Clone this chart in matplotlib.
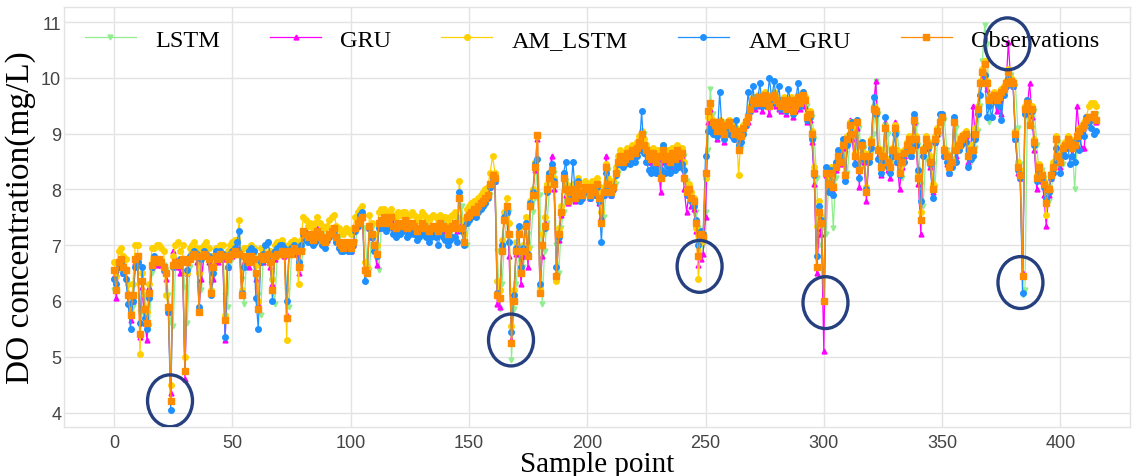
import numpy as np
import matplotlib
matplotlib.use("Agg")
import matplotlib.pyplot as plt
from matplotlib.patches import Ellipse

observations = [
    6.55, 6.2, 6.7, 6.75, 6.6, 6.55, 6.1, 5.75, 6.1, 6.75,
    6.8, 5.4, 6.35, 5.85, 5.6, 6.15, 6.65, 6.75, 6.7, 6.75,
    6.7, 6.6, 6.5, 5.9, 4.2, 6.65, 6.7, 6.65, 6.7, 6.75,
    4.75, 6.7, 6.75, 6.8, 6.85, 6.8, 5.8, 6.8, 6.85, 6.8,
    6.75, 6.15, 6.6, 6.8, 6.75, 6.85, 6.8, 5.65, 6.75, 6.8,
    6.85, 6.9, 6.85, 6.85, 6.1, 6.8, 6.75, 6.7, 6.8, 6.75,
    6.5, 5.85, 6.8, 6.75, 6.8, 6.85, 6.7, 6.2, 6.8, 6.85,
    6.85, 6.9, 6.85, 5.7, 6.9, 6.85, 6.95, 6.9, 6.6, 6.9,
    7.25, 7.2, 7.15, 7.2, 7.1, 7.15, 7.25, 7.2, 7.1, 7.05,
    7.15, 7.2, 7.25, 7.3, 7.15, 7.05, 7.0, 6.95, 7.05, 7.0,
    6.95, 7.05, 7.3, 7.4, 7.45, 7.5, 6.55, 6.5, 7.35, 7.2,
    7.0, 6.85, 7.4, 7.45, 7.5, 7.4, 7.45, 7.5, 7.35, 7.3,
    7.4, 7.35, 7.4, 7.45, 7.3, 7.35, 7.4, 7.35, 7.25, 7.3,
    7.4, 7.35, 7.3, 7.25, 7.3, 7.35, 7.3, 7.25, 7.4, 7.35,
    7.3, 7.2, 7.3, 7.35, 7.4, 7.3, 7.85, 7.3, 7.05, 7.5,
    7.55, 7.6, 7.65, 7.6, 7.7, 7.75, 7.8, 7.85, 7.9, 8.1,
    8.25, 8.2, 6.1, 6.05, 6.9, 7.45, 7.7, 7.2, 5.25, 6.0,
    6.9, 7.2, 6.5, 6.9, 7.35, 6.8, 7.7, 7.9, 8.4, 8.97,
    6.15, 7.0, 7.35, 8.0, 8.2, 8.35, 8.1, 6.45, 7.2, 7.6,
    8.2, 8.0, 7.8, 7.95, 8.0, 7.85, 8.1, 7.95, 7.9, 8.05,
    8.0, 7.9, 8.05, 7.95, 8.1, 7.85, 7.4, 7.95, 8.4, 8.1,
    7.95, 8.05, 8.3, 8.5, 8.6, 8.5, 8.55, 8.65, 8.6, 8.7,
    8.65, 8.75, 8.85, 9.0, 8.8, 8.7, 8.6, 8.55, 8.65, 8.5,
    8.6, 8.2, 8.7, 8.55, 8.6, 8.5, 8.65, 8.55, 8.7, 8.6,
    8.65, 8.2, 7.95, 8.0, 7.85, 7.8, 7.4, 6.8, 7.2, 7.15,
    8.3, 9.4, 9.55, 9.2, 9.15, 9.05, 9.2, 9.1, 9.0, 9.15,
    9.2, 9.1, 9.0, 9.05, 8.7, 8.95, 9.1, 9.2, 9.3, 9.45,
    9.6, 9.55, 9.65, 9.6, 9.55, 9.7, 9.6, 9.5, 9.65, 9.7,
    9.6, 9.55, 9.5, 9.6, 9.45, 9.55, 9.6, 9.4, 9.5, 9.65,
    9.55, 9.7, 9.6, 9.3, 9.35, 9.0, 8.3, 6.6, 7.6, 7.4,
    6.0, 8.3, 8.1, 8.3, 8.05, 8.4, 8.6, 8.5, 8.8, 8.25,
    8.9, 9.15, 9.0, 8.6, 9.2, 8.35, 8.8, 8.6, 7.95, 8.6,
    8.85, 9.45, 9.4, 8.7, 8.4, 8.6, 9.1, 8.5, 8.4, 8.7,
    9.1, 8.6, 8.3, 8.5, 8.65, 8.8, 8.9, 8.7, 9.25, 8.9,
    8.2, 7.45, 8.7, 8.9, 8.8, 8.5, 8.0, 8.9, 9.05, 9.2,
    9.3, 8.7, 8.6, 8.4, 8.5, 9.2, 8.7, 8.8, 8.9, 8.95,
    9.0, 8.6, 8.7, 8.7, 9.0, 9.45, 9.9, 10.1, 10.25, 9.9,
    9.6, 9.65, 9.7, 9.6, 9.65, 9.75, 9.8, 9.9, 10.1, 9.95,
    9.9, 9.0, 8.4, 8.25, 6.45, 9.45, 9.55, 9.15, 9.45, 8.85,
    8.2, 8.4, 8.25, 8.1, 7.75, 8.0, 8.25, 8.4, 8.9, 8.6,
    8.5, 8.75, 8.8, 8.9, 8.85, 8.75, 8.8, 8.95, 9.05, 9.1,
    9.15, 9.25, 9.3, 9.3, 9.35, 9.25,
]

lstm = [
    6.2, 6.3, 6.55, 6.7, 6.65, 6.5, 6.3, 5.85, 5.9, 6.6,
    6.7, 5.8, 5.8, 6.1, 5.7, 5.55, 6.5, 6.7, 6.75, 6.7,
    6.7, 6.65, 6.55, 6.1, 5.6, 5.55, 6.6, 6.7, 6.65, 6.7,
    6.25, 5.6, 6.6, 6.75, 6.8, 6.85, 6.3, 6.2, 6.8, 6.85,
    6.8, 6.3, 6.45, 6.7, 6.8, 6.8, 6.85, 6.1, 5.9, 6.7,
    6.75, 6.85, 6.9, 6.85, 6.4, 5.95, 6.7, 6.75, 6.7, 6.8,
    6.7, 6.1, 5.75, 6.7, 6.75, 6.8, 6.8, 6.35, 5.95, 6.8,
    6.85, 6.9, 6.9, 6.2, 5.9, 6.8, 6.9, 6.95, 6.85, 6.6,
    6.9, 7.2, 7.2, 7.15, 7.2, 7.1, 7.15, 7.25, 7.2, 7.1,
    7.05, 7.15, 7.2, 7.25, 7.3, 7.15, 7.05, 7.0, 6.95, 7.05,
    7.0, 6.95, 7.05, 7.3, 7.4, 7.45, 7.3, 6.6, 6.55, 7.3,
    7.15, 6.95, 6.55, 7.35, 7.45, 7.5, 7.4, 7.45, 7.45, 7.3,
    7.3, 7.4, 7.35, 7.4, 7.4, 7.3, 7.35, 7.4, 7.3, 7.25,
    7.3, 7.4, 7.35, 7.3, 7.25, 7.3, 7.35, 7.3, 7.25, 7.4,
    7.35, 7.3, 7.2, 7.3, 7.35, 7.4, 7.4, 7.7, 7.2, 7.0,
    7.45, 7.55, 7.6, 7.65, 7.6, 7.7, 7.75, 7.8, 7.85, 7.9,
    8.1, 8.2, 6.9, 5.85, 6.3, 7.0, 7.5, 7.6, 4.95, 5.85,
    6.3, 6.8, 6.9, 6.6, 6.95, 7.2, 6.95, 7.6, 7.85, 8.5,
    7.9, 5.95, 6.9, 7.4, 7.95, 8.2, 8.3, 7.0, 6.5, 7.3,
    7.6, 8.15, 7.95, 7.8, 7.9, 7.95, 7.85, 8.05, 7.95, 7.9,
    8.0, 7.95, 7.9, 8.05, 7.95, 8.05, 7.8, 7.5, 7.95, 8.35,
    8.1, 7.95, 8.1, 8.3, 8.5, 8.55, 8.5, 8.55, 8.65, 8.6,
    8.7, 8.65, 8.75, 8.85, 9.0, 8.8, 8.7, 8.6, 8.55, 8.6,
    8.5, 8.55, 8.3, 8.65, 8.55, 8.6, 8.5, 8.6, 8.55, 8.65,
    8.6, 8.6, 8.15, 7.95, 7.9, 7.75, 7.6, 7.3, 6.8, 7.0,
    7.6, 8.7, 9.8, 9.35, 9.2, 9.1, 9.15, 9.2, 9.05, 9.1,
    9.15, 9.2, 9.05, 9.0, 9.0, 8.75, 9.0, 9.15, 9.25, 9.35,
    9.5, 9.6, 9.55, 9.65, 9.6, 9.55, 9.7, 9.6, 9.5, 9.65,
    9.65, 9.6, 9.55, 9.5, 9.6, 9.45, 9.55, 9.6, 9.45, 9.5,
    9.6, 9.55, 9.65, 9.5, 9.3, 9.3, 8.9, 8.2, 7.0, 7.5,
    7.3, 7.2, 8.1, 8.15, 7.3, 8.2, 8.45, 8.55, 8.6, 8.65,
    8.3, 8.85, 9.1, 8.95, 8.7, 9.1, 8.4, 8.75, 8.0, 8.5,
    8.65, 9.0, 9.95, 9.35, 8.6, 8.5, 8.75, 9.0, 8.5, 8.45,
    8.6, 9.0, 8.65, 8.2, 8.45, 8.6, 8.75, 8.85, 8.7, 9.15,
    8.8, 8.1, 7.7, 8.55, 8.85, 8.75, 8.45, 8.05, 8.85, 9.0,
    9.15, 9.25, 8.7, 8.55, 8.45, 8.5, 9.1, 8.7, 8.75, 8.85,
    8.9, 8.95, 8.5, 8.6, 8.75, 9.05, 9.5, 10.3, 10.95, 10.6,
    9.2, 9.55, 9.6, 9.7, 9.65, 9.6, 9.7, 9.8, 9.9, 10.05,
    9.95, 9.85, 9.1, 8.45, 6.1, 6.2, 9.3, 9.5, 9.1, 9.4,
    8.8, 8.25, 8.35, 8.2, 8.05, 7.8, 7.95, 8.3, 8.4, 8.85,
    8.55, 8.45, 8.7, 8.75, 8.85, 8.8, 8.0, 8.75, 8.9, 9.0,
    9.05, 9.1, 9.2, 9.25, 9.3, 9.35,
]

gru = [
    6.45, 6.05, 6.6, 6.7, 6.5, 6.55, 6.15, 5.65, 6.0, 6.7,
    6.75, 5.35, 6.25, 5.6, 5.3, 6.25, 6.6, 6.8, 6.65, 6.7,
    6.65, 6.55, 6.4, 5.8, 4.35, 6.9, 6.75, 6.6, 6.5, 6.7,
    4.6, 6.5, 6.75, 6.8, 6.85, 6.7, 5.9, 6.4, 6.8, 6.85,
    6.7, 6.2, 6.4, 6.8, 6.7, 6.8, 6.75, 5.3, 6.6, 6.8,
    6.8, 6.85, 6.9, 6.95, 6.2, 6.7, 6.75, 6.6, 6.8, 6.7,
    6.4, 5.95, 6.75, 6.7, 6.85, 6.8, 6.6, 6.3, 6.75, 6.9,
    6.9, 6.95, 6.8, 5.75, 6.85, 6.9, 6.9, 6.85, 6.5, 6.9,
    7.2, 7.25, 7.1, 7.2, 7.15, 7.1, 7.3, 7.15, 7.1, 7.05,
    7.1, 7.2, 7.3, 7.25, 7.1, 7.0, 6.95, 7.0, 7.05, 6.95,
    6.9, 7.0, 7.3, 7.35, 7.45, 7.5, 6.6, 6.65, 7.3, 7.15,
    6.95, 6.65, 7.35, 7.4, 7.5, 7.35, 7.4, 7.45, 7.3, 7.25,
    7.35, 7.3, 7.4, 7.4, 7.25, 7.3, 7.35, 7.3, 7.2, 7.25,
    7.35, 7.3, 7.25, 7.2, 7.3, 7.3, 7.25, 7.2, 7.35, 7.3,
    7.25, 7.15, 7.3, 7.3, 7.35, 7.25, 7.9, 7.4, 7.1, 7.45,
    7.5, 7.55, 7.6, 7.55, 7.7, 7.7, 7.75, 7.8, 7.9, 8.05,
    8.2, 8.15, 5.95, 5.9, 7.0, 7.5, 7.6, 6.8, 5.3, 6.15,
    6.85, 7.3, 6.3, 6.8, 7.4, 6.6, 7.75, 7.95, 8.35, 8.9,
    6.2, 6.8, 7.4, 8.05, 8.2, 8.6, 8.0, 6.5, 7.1, 7.55,
    8.25, 7.9, 7.75, 7.9, 8.05, 7.8, 8.15, 7.9, 7.85, 8.0,
    7.95, 7.85, 8.0, 7.9, 8.1, 7.75, 7.5, 7.9, 8.6, 8.05,
    7.9, 8.0, 8.35, 8.45, 8.6, 8.45, 8.5, 8.6, 8.55, 8.65,
    8.6, 8.7, 8.8, 9.0, 8.75, 8.65, 8.5, 8.5, 8.6, 8.45,
    8.55, 7.95, 8.65, 8.5, 8.55, 8.4, 8.6, 8.5, 8.65, 8.55,
    8.6, 8.0, 7.6, 7.9, 7.7, 7.65, 7.25, 6.65, 6.75, 6.85,
    7.5, 9.2, 9.45, 9.1, 9.05, 8.9, 9.1, 9.0, 8.85, 9.05,
    9.1, 9.0, 8.95, 8.9, 8.75, 8.9, 9.05, 9.15, 9.2, 9.4,
    9.55, 9.45, 9.6, 9.5, 9.4, 9.6, 9.5, 9.35, 9.55, 9.6,
    9.5, 9.45, 9.4, 9.5, 9.35, 9.45, 9.5, 9.3, 9.4, 9.55,
    9.45, 9.6, 9.5, 9.2, 9.25, 8.85, 8.1, 6.5, 7.3, 7.2,
    5.1, 8.25, 8.0, 8.3, 7.95, 8.35, 8.55, 8.45, 8.75, 8.2,
    8.85, 9.25, 8.9, 8.5, 9.1, 8.05, 8.7, 8.5, 7.8, 8.55,
    8.8, 9.5, 9.95, 8.6, 8.25, 8.55, 9.2, 8.35, 8.2, 8.6,
    9.2, 8.5, 8.0, 8.4, 8.6, 8.75, 8.85, 8.6, 9.2, 8.8,
    8.1, 7.2, 8.65, 8.85, 8.75, 8.4, 7.95, 8.85, 9.0, 9.2,
    9.3, 8.6, 8.45, 8.3, 8.45, 9.3, 8.6, 8.75, 8.85, 8.9,
    8.95, 8.5, 8.6, 9.5, 8.95, 9.4, 9.95, 10.0, 10.3, 9.8,
    9.55, 9.6, 9.65, 9.4, 9.6, 9.35, 9.75, 9.85, 10.65, 9.9,
    9.85, 8.9, 8.3, 8.2, 6.5, 9.4, 9.5, 9.9, 9.3, 8.7,
    8.0, 8.35, 8.15, 7.9, 7.35, 7.9, 8.2, 8.35, 8.9, 8.5,
    8.4, 8.7, 8.75, 8.9, 8.8, 8.6, 8.75, 9.5, 9.0, 8.75,
    8.75, 9.2, 9.3, 9.25, 9.3, 9.2,
]

am_lstm = [
    6.7, 6.45, 6.9, 6.95, 6.8, 6.75, 6.3, 5.8, 6.3, 7.0,
    7.0, 5.05, 6.5, 6.1, 5.8, 6.3, 6.95, 6.95, 7.0, 7.0,
    6.95, 6.9, 6.1, 5.9, 4.5, 6.8, 7.0, 7.05, 6.9, 7.0,
    5.0, 6.5, 6.95, 7.0, 7.05, 6.95, 6.5, 6.95, 7.0, 7.05,
    6.95, 6.2, 6.8, 6.95, 6.95, 7.0, 7.0, 5.75, 6.9, 7.0,
    7.05, 7.1, 7.1, 7.45, 6.2, 6.95, 6.95, 6.9, 7.0, 6.95,
    6.65, 6.0, 6.95, 6.95, 7.0, 7.05, 6.9, 6.4, 7.0, 7.05,
    7.05, 7.1, 7.0, 5.3, 7.0, 7.05, 7.1, 7.05, 6.3, 7.1,
    7.5, 7.45, 7.35, 7.4, 7.3, 7.4, 7.5, 7.4, 7.35, 7.3,
    7.35, 7.45, 7.5, 7.55, 7.35, 7.3, 7.25, 7.2, 7.3, 7.25,
    7.2, 7.3, 7.5, 7.6, 7.65, 7.7, 6.7, 6.6, 7.55, 7.4,
    7.2, 7.0, 7.6, 7.65, 7.65, 7.6, 7.6, 7.65, 7.55, 7.5,
    7.6, 7.55, 7.6, 7.6, 7.5, 7.55, 7.6, 7.55, 7.45, 7.5,
    7.6, 7.55, 7.5, 7.45, 7.5, 7.55, 7.5, 7.45, 7.55, 7.5,
    7.5, 7.4, 7.5, 7.55, 7.6, 7.5, 8.15, 7.45, 7.2, 7.65,
    7.7, 7.75, 7.8, 7.75, 7.85, 7.9, 7.95, 8.0, 8.05, 8.3,
    8.6, 8.3, 6.35, 6.2, 7.1, 7.6, 7.85, 7.4, 5.55, 6.2,
    7.05, 7.3, 6.6, 7.0, 7.5, 6.95, 7.8, 8.0, 8.5, 8.95,
    6.25, 7.2, 7.5, 8.1, 8.3, 8.4, 8.2, 6.35, 7.3, 7.7,
    8.3, 8.1, 7.9, 8.05, 8.1, 7.95, 8.2, 8.05, 8.0, 8.15,
    8.1, 8.0, 8.15, 8.05, 8.2, 7.95, 7.6, 8.05, 8.45, 8.2,
    8.05, 8.15, 8.4, 8.6, 8.7, 8.6, 8.65, 8.75, 8.7, 8.8,
    8.75, 8.85, 8.95, 9.05, 8.9, 8.8, 8.7, 8.65, 8.75, 8.6,
    8.7, 8.3, 8.8, 8.65, 8.7, 8.6, 8.75, 8.65, 8.8, 8.7,
    8.75, 8.5, 8.0, 8.1, 7.95, 7.85, 7.3, 6.4, 7.05, 7.2,
    8.2, 9.3, 9.5, 9.25, 9.2, 9.1, 9.25, 9.15, 9.05, 9.2,
    9.25, 9.15, 9.05, 9.1, 8.25, 9.0, 9.15, 9.25, 9.35, 9.5,
    9.65, 9.6, 9.7, 9.65, 9.6, 9.75, 9.65, 9.55, 9.7, 9.75,
    9.65, 9.6, 9.55, 9.65, 9.5, 9.6, 9.65, 9.45, 9.55, 9.7,
    9.6, 9.75, 9.65, 9.35, 9.4, 9.05, 8.4, 7.35, 7.8, 7.5,
    6.0, 8.35, 8.2, 8.4, 8.1, 8.45, 8.65, 8.6, 8.85, 8.3,
    8.95, 9.2, 9.1, 8.65, 9.25, 8.4, 8.85, 8.65, 8.05, 8.65,
    8.9, 9.5, 9.45, 8.75, 8.45, 8.7, 9.15, 8.55, 8.5, 8.75,
    9.15, 8.7, 8.4, 8.6, 8.7, 8.85, 8.95, 8.8, 9.3, 8.95,
    8.3, 7.6, 8.75, 8.95, 8.85, 8.6, 8.1, 8.95, 9.1, 9.25,
    9.35, 8.75, 8.65, 8.5, 8.55, 9.25, 8.8, 8.85, 8.95, 9.0,
    9.05, 8.7, 8.8, 8.75, 9.1, 9.5, 9.95, 10.15, 10.3, 9.95,
    9.65, 9.7, 9.75, 9.65, 9.7, 9.8, 9.85, 9.95, 10.15, 10.0,
    9.95, 9.05, 8.5, 8.35, 6.45, 9.5, 9.6, 9.2, 9.5, 8.9,
    8.25, 8.45, 8.3, 8.15, 7.55, 8.05, 8.3, 8.5, 8.95, 8.65,
    8.55, 8.8, 8.85, 8.95, 8.9, 8.8, 8.85, 9.0, 9.1, 9.15,
    9.2, 9.3, 9.5, 9.55, 9.55, 9.5,
]

am_gru = [
    6.4, 6.3, 6.6, 6.7, 6.5, 6.4, 5.95, 5.5, 6.0, 6.6,
    6.7, 5.6, 6.6, 5.7, 5.5, 6.05, 6.6, 6.8, 6.7, 6.75,
    6.7, 6.55, 6.5, 5.8, 4.05, 6.6, 6.65, 6.7, 6.75, 6.7,
    4.75, 6.55, 6.8, 6.85, 6.9, 6.85, 5.9, 6.75, 6.9, 6.85,
    6.8, 6.1, 6.5, 6.9, 6.85, 6.9, 6.85, 5.35, 6.6, 6.85,
    6.9, 6.95, 7.05, 7.25, 6.15, 6.6, 6.8, 6.9, 6.95, 6.9,
    6.05, 5.5, 6.7, 6.85, 7.0, 7.05, 6.85, 6.0, 6.9, 6.95,
    7.0, 7.0, 6.95, 6.0, 6.9, 6.95, 7.0, 6.95, 6.7, 7.0,
    7.2, 7.1, 7.05, 7.1, 7.0, 7.05, 7.15, 7.1, 7.0, 6.95,
    7.1, 7.15, 7.2, 7.2, 7.05, 6.95, 6.9, 6.9, 6.95, 6.9,
    6.9, 7.0, 7.25, 7.35, 7.55, 7.6, 6.35, 6.5, 7.3, 7.15,
    6.9, 6.8, 7.3, 7.3, 7.35, 7.25, 7.3, 7.35, 7.2, 7.15,
    7.25, 7.2, 7.25, 7.3, 7.15, 7.2, 7.25, 7.2, 7.1, 7.15,
    7.25, 7.2, 7.15, 7.05, 7.15, 7.2, 7.15, 7.0, 7.2, 7.15,
    7.1, 7.0, 7.1, 7.15, 7.15, 7.05, 7.95, 7.25, 7.0, 7.4,
    7.45, 7.5, 7.55, 7.5, 7.6, 7.65, 7.7, 7.75, 7.85, 8.05,
    8.2, 8.15, 6.15, 6.05, 7.0, 7.5, 7.6, 7.05, 5.45, 6.1,
    6.95, 7.35, 6.6, 6.95, 7.4, 6.85, 7.75, 7.95, 8.45, 8.55,
    6.3, 7.0, 7.3, 7.95, 8.3, 8.45, 8.15, 6.6, 7.15, 7.6,
    8.3, 8.5, 7.8, 7.9, 8.5, 7.85, 8.15, 7.8, 7.85, 8.0,
    7.95, 7.85, 8.0, 7.9, 8.05, 7.8, 7.05, 7.9, 8.3, 8.0,
    7.9, 8.0, 8.25, 8.45, 8.5, 8.4, 8.45, 8.5, 8.45, 8.55,
    8.5, 8.6, 8.7, 9.4, 8.65, 8.5, 8.35, 8.3, 8.4, 8.3,
    8.35, 8.35, 8.8, 8.3, 8.4, 8.3, 8.45, 8.35, 8.45, 8.4,
    8.45, 8.35, 7.9, 8.0, 7.8, 7.7, 7.45, 7.0, 7.25, 7.2,
    8.6, 9.05, 9.1, 9.0, 9.05, 8.95, 9.75, 9.05, 8.9, 9.0,
    9.05, 8.95, 8.9, 9.25, 8.8, 8.85, 9.0, 9.15, 9.75, 9.4,
    9.85, 9.5, 9.6, 9.9, 9.5, 9.65, 9.55, 10.0, 9.6, 9.95,
    9.55, 9.85, 9.45, 9.55, 9.4, 9.8, 9.55, 9.35, 9.5, 9.9,
    9.5, 9.75, 9.6, 9.25, 9.3, 8.9, 8.25, 6.8, 7.7, 7.45,
    6.0, 8.4, 7.95, 8.35, 7.9, 8.5, 8.7, 8.6, 8.9, 8.15,
    8.8, 9.0, 9.2, 8.45, 9.25, 8.2, 8.85, 8.55, 8.0, 8.5,
    8.75, 9.65, 9.35, 8.55, 8.3, 8.5, 9.3, 8.4, 8.3, 8.6,
    9.0, 8.5, 8.25, 8.55, 8.5, 8.7, 8.8, 8.6, 9.35, 8.8,
    8.35, 7.8, 8.6, 8.8, 8.75, 8.45, 7.85, 8.85, 9.05, 9.35,
    9.35, 8.6, 8.5, 8.3, 8.4, 9.3, 8.5, 8.7, 8.8, 8.85,
    8.85, 8.4, 8.55, 8.6, 8.9, 9.35, 9.7, 9.9, 10.05, 9.3,
    9.5, 9.3, 9.6, 9.55, 9.5, 9.25, 9.7, 9.85, 10.0, 9.9,
    9.85, 8.9, 8.35, 8.2, 6.15, 9.35, 9.6, 9.4, 9.4, 8.8,
    8.15, 8.3, 8.2, 8.05, 7.85, 7.95, 8.2, 8.3, 8.75, 8.5,
    8.3, 8.7, 8.6, 8.85, 8.45, 8.6, 8.5, 8.9, 8.7, 9.0,
    8.95, 9.3, 9.2, 9.1, 9.0, 9.05,
]

# Highlighted points (sample index, DO value)
circle_x = [23.7, 167.8, 247.5, 300.7, 383.1, 377.6]
circle_y = [4.21, 5.30, 6.62, 5.97, 6.33, 10.61]

x = np.arange(len(observations))

serif = ['Liberation Serif', 'DejaVu Serif']
plt.rcParams['font.family'] = ['Liberation Sans', 'DejaVu Sans']

fig = plt.figure(figsize=(11.35, 4.77), dpi=100)
ax = fig.add_axes([0.0564, 0.1027, 0.9392, 0.8805])

ax.plot(x, lstm, color='#90ee90', lw=0.9, marker='v', ms=3.5, label='LSTM', zorder=2)
ax.plot(x, gru, color='#ff00ff', lw=0.9, marker='^', ms=3.5, label='GRU', zorder=3)
ax.plot(x, am_lstm, color='#ffd000', lw=0.9, marker='o', ms=4, label='AM_LSTM', zorder=4)
ax.plot(x, am_gru, color='#1e90ff', lw=0.9, marker='o', ms=4, label='AM_GRU', zorder=5)
ax.plot(x, observations, color='#ff8c00', lw=0.9, marker='s', ms=4, label='Observations', zorder=6)

for cx, cy in zip(circle_x, circle_y):
    ax.add_patch(Ellipse((cx, cy), 19.0, 0.93, fill=False, edgecolor='#26407f',
                         lw=2.4, zorder=10))

ax.set_xlim(-21.1, 429.4)
ax.set_ylim(3.74, 11.27)
ax.set_xticks(np.arange(0, 401, 50))
ax.set_yticks(np.arange(4, 12, 1))
ax.grid(True, color='#e3e3e3', lw=1)
ax.set_axisbelow(True)
for s in ax.spines.values():
    s.set_color('#e3e3e3')
    s.set_linewidth(1)
ax.tick_params(length=0, labelsize=13, labelcolor='#444444')
ax.tick_params(axis='x', pad=5)
ax.tick_params(axis='y', pad=2)

ax.set_xlabel('Sample point', fontsize=21, family=serif, labelpad=0)
ax.set_ylabel('DO concentration(mg/L)', fontsize=24, family=serif, labelpad=4)

ax.legend(loc='center left', bbox_to_anchor=(0.0195, 0.922), ncol=5, frameon=False,
          prop={'family': serif, 'size': 17.5}, handlelength=2.1, handletextpad=0.8,
          columnspacing=2.05, borderpad=0, borderaxespad=0, numpoints=1)

fig.savefig('out.png', dpi=100)
